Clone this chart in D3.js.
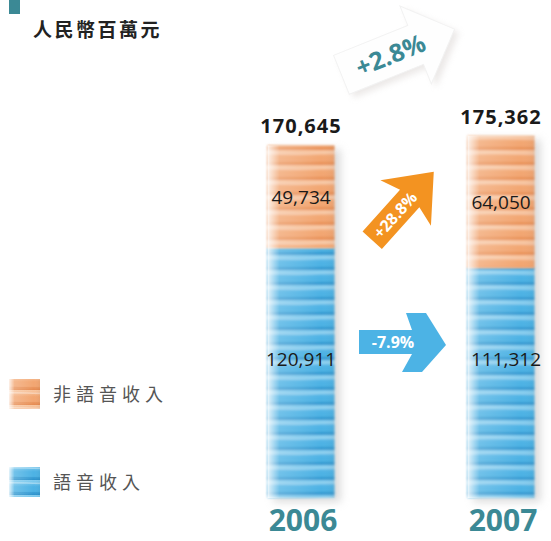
<!DOCTYPE html>
<html>
<head>
<meta charset="utf-8">
<script src="https://cdn.jsdelivr.net/npm/d3@7"></script>
<style>
  body { margin: 0; background: #fff; }
  svg { display: block; }
</style>
</head>
<body>
<svg id="chart"></svg>
<script>
// data
const years = ["2006", "2007"];
const voiceRevenue = [120911, 111312];
const nonVoiceRevenue = [49734, 64050];
const totals = [170645, 175362];
const changeLabels = { voice: "-7.9%", nonVoice: "+28.8%", total: "+2.8%" };
const unitLabel = "人民幣百萬元";
const legendLabels = ["非語音收入", "語音收入"];

const W = 551, H = 541;
const svg = d3.select("#chart").attr("width", W).attr("height", H);
const defs = svg.append("defs");

const teal = "#3b8995";
const numFont = "'Open Sans', 'DejaVu Sans', sans-serif";
const cjkFont = "'Noto Sans CJK TC', 'Noto Sans CJK SC', sans-serif";

const x = d3.scalePoint().domain(years).range([301, 501]);
const y = d3.scaleLinear().domain([0, 180000]).range([498, 126]);
const barW = 67;

// blur filters
defs.append("filter").attr("id", "shadow").attr("x", "-50%").attr("y", "-20%").attr("width", "200%").attr("height", "140%")
    .append("feGaussianBlur").attr("stdDeviation", 4);
defs.append("filter").attr("id", "soft").attr("x", "-20%").attr("y", "-20%").attr("width", "140%").attr("height", "140%")
    .append("feGaussianBlur").attr("stdDeviation", 1);
defs.append("filter").attr("id", "bigshadow").attr("x", "-30%").attr("y", "-30%").attr("width", "160%").attr("height", "160%")
    .append("feGaussianBlur").attr("stdDeviation", 3);

// striped ribbon patterns
function stripePattern(id, base, light, dark) {
    let g = defs.append("linearGradient").attr("id", id + "Grad").attr("x1", 0).attr("x2", 0).attr("y1", 0).attr("y2", 1);
    g.append("stop").attr("offset", "0%").attr("stop-color", light);
    g.append("stop").attr("offset", "45%").attr("stop-color", base);
    g.append("stop").attr("offset", "75%").attr("stop-color", base);
    g.append("stop").attr("offset", "100%").attr("stop-color", dark);
    let p = defs.append("pattern").attr("id", id)
        .attr("patternUnits", "userSpaceOnUse")
        .attr("width", 80).attr("height", 15);
    p.append("rect").attr("width", 80).attr("height", 15).attr("fill", `url(#${id}Grad)`);
    p.append("path").attr("d", "M0,12 C20,11 45,14 80,12 L80,13.5 C45,15 20,12.5 0,13.5 Z").attr("fill", dark).attr("opacity", 0.45);
    p.append("path").attr("d", "M0,3 C25,2 50,5 80,3").attr("stroke", "#fff").attr("stroke-width", 1.5).attr("fill", "none").attr("opacity", 0.35);
    return p;
}
stripePattern("orangeStripe", "#f2a672", "#f8c8a3", "#e5894f");
stripePattern("blueStripe", "#4db2e4", "#88cff0", "#2b90ca");

let fade = defs.append("linearGradient").attr("id", "leftFade").attr("x1", 0).attr("x2", 1).attr("y1", 0).attr("y2", 0);
fade.append("stop").attr("offset", "0%").attr("stop-color", "#fff").attr("stop-opacity", 0.85);
fade.append("stop").attr("offset", "18%").attr("stop-color", "#fff").attr("stop-opacity", 0.2);
fade.append("stop").attr("offset", "80%").attr("stop-color", "#fff").attr("stop-opacity", 0);
fade.append("stop").attr("offset", "100%").attr("stop-color", "#000").attr("stop-opacity", 0.04);

// header
svg.append("rect").attr("x", 9).attr("y", 0).attr("width", 11).attr("height", 14).attr("fill", teal);
svg.append("text").attr("x", 33).attr("y", 37)
    .attr("font-family", cjkFont).attr("font-size", 19).attr("font-weight", "bold")
    .attr("letter-spacing", 2.5).attr("fill", "#222").text(unitLabel);

// big total-change arrow
function arrowPath(len, shaft, head, headLen) {
    let h = len / 2;
    return `M${-h},${-shaft / 2} L${h - headLen},${-shaft / 2} L${h - headLen},${-head / 2} L${h},0 L${h - headLen},${head / 2} L${h - headLen},${shaft / 2} L${-h},${shaft / 2} Z`;
}
let big = svg.append("g").attr("transform", "translate(398,52) rotate(-22)");
big.append("path").attr("d", arrowPath(122, 42, 84, 42))
    .attr("transform", "translate(3,5)")
    .attr("fill", "#cfc8c5").attr("opacity", 0.4).attr("filter", "url(#bigshadow)");
big.append("path").attr("d", arrowPath(122, 42, 84, 42)).attr("fill", "#fefefe")
    .attr("stroke", "#f2f2f2").attr("stroke-width", 1);
big.append("text").attr("x", -8).attr("y", 9)
    .attr("text-anchor", "middle").attr("font-family", numFont).attr("font-weight", "bold")
    .attr("font-size", 25).attr("fill", teal).text(changeLabels.total);

// bars
const stacks = years.map((yr, i) => ({
    year: yr,
    segs: [
        { key: "voice", y0: 0, y1: voiceRevenue[i], fill: "url(#blueStripe)" },
        { key: "nonVoice", y0: voiceRevenue[i], y1: voiceRevenue[i] + nonVoiceRevenue[i], fill: "url(#orangeStripe)" }
    ],
    total: totals[i], voice: voiceRevenue[i], nonVoice: nonVoiceRevenue[i]
}));

const barG = svg.selectAll(".bar").data(stacks).enter().append("g").attr("class", "bar");

barG.append("rect")
    .attr("x", d => x(d.year) - barW / 2 + 6)
    .attr("y", d => y(d.total) + 4)
    .attr("width", barW)
    .attr("height", d => y(0) - y(d.total))
    .attr("fill", "#b8b8b8").attr("opacity", 0.5)
    .attr("filter", "url(#shadow)");

barG.selectAll(".seg").data(d => d.segs.map(s => ({ ...s, year: d.year }))).enter().append("rect")
    .attr("class", "seg")
    .attr("x", d => x(d.year) - barW / 2)
    .attr("y", d => y(d.y1))
    .attr("width", barW)
    .attr("height", d => y(d.y0) - y(d.y1))
    .attr("fill", d => d.fill)
    .attr("filter", "url(#soft)");

barG.append("rect")
    .attr("x", d => x(d.year) - barW / 2)
    .attr("y", d => y(d.total))
    .attr("width", barW)
    .attr("height", d => y(0) - y(d.total))
    .attr("fill", "url(#leftFade)");

// value labels
barG.append("text")
    .attr("x", d => x(d.year))
    .attr("y", d => y(d.total) - 12)
    .attr("text-anchor", "middle").attr("font-family", numFont).attr("font-weight", "bold")
    .attr("font-size", 20).attr("letter-spacing", 1).attr("fill", "#1a1a1a")
    .text(d => d3.format(",")(d.total));

barG.append("text")
    .attr("x", d => x(d.year))
    .attr("y", d => (y(d.voice) + y(d.total)) / 2 + 7)
    .attr("text-anchor", "middle").attr("font-family", numFont)
    .attr("font-size", 19).attr("fill", "#1a1a1a")
    .text(d => d3.format(",")(d.nonVoice));

barG.append("text")
    .attr("x", (d, i) => x(d.year) + (i === 1 ? 5 : 0))
    .attr("y", 366)
    .attr("text-anchor", "middle").attr("font-family", numFont)
    .attr("font-size", 19).attr("fill", "#1a1a1a")
    .text(d => d3.format(",")(d.voice));

// year labels
svg.selectAll(".year").data(years).enter().append("text")
    .attr("x", d => x(d) + 2)
    .attr("y", 531)
    .attr("text-anchor", "middle").attr("font-family", numFont).attr("font-weight", "bold")
    .attr("font-size", 30).attr("fill", teal)
    .text(d => d);

// change arrows
let oArrow = svg.append("g").attr("transform", "translate(403,206) rotate(-48)");
oArrow.append("path").attr("d", "M-46,-13 L10,-13 L4,-34 L46,0 L4,34 L10,13 L-46,13 Z").attr("fill", "#f39321");
oArrow.append("text").attr("x", -12).attr("y", 6)
    .attr("text-anchor", "middle").attr("font-family", numFont).attr("font-weight", "bold")
    .attr("font-size", 16).attr("fill", "#fff").text(changeLabels.nonVoice);

let bArrow = svg.append("g").attr("transform", "translate(402,342)");
bArrow.append("path").attr("d", "M-43,-12 L10,-12 L4,-29 L24,-29 L44,3 L20,30 L0,30 L10,12 L-43,12 Z").attr("fill", "#4cb3e5");
bArrow.append("text").attr("x", -9).attr("y", 6)
    .attr("text-anchor", "middle").attr("font-family", numFont).attr("font-weight", "bold")
    .attr("font-size", 16).attr("fill", "#fff").text(changeLabels.voice);

// legend
const legend = svg.selectAll(".legend").data([
    { label: legendLabels[0], fill: "url(#orangeStripe)", y: 379 },
    { label: legendLabels[1], fill: "url(#blueStripe)", y: 467 }
]).enter().append("g").attr("class", "legend");
legend.append("rect").attr("x", 9).attr("y", d => d.y).attr("width", 31).attr("height", 30).attr("fill", d => d.fill);
legend.append("rect").attr("x", 9).attr("y", d => d.y).attr("width", 31).attr("height", 30).attr("fill", "url(#leftFade)");
legend.append("text").attr("x", 53).attr("y", d => d.y + 22)
    .attr("font-family", cjkFont).attr("font-size", 18).attr("letter-spacing", 5)
    .attr("fill", "#555").text(d => d.label);
</script>
</body>
</html>
